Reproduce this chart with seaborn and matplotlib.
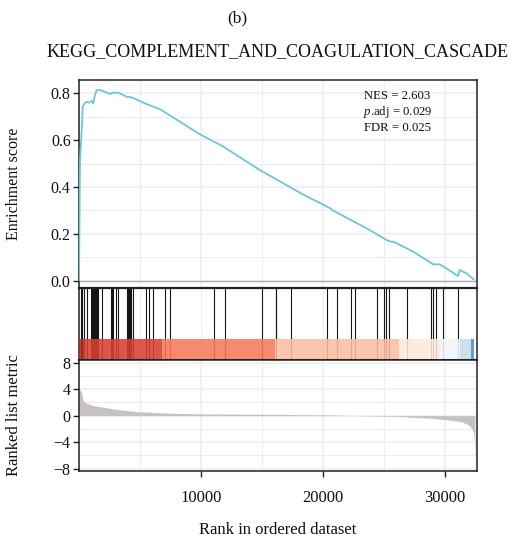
import numpy as np
import pandas as pd
import matplotlib
matplotlib.use("Agg")
import matplotlib.pyplot as plt
from matplotlib.ticker import MultipleLocator
import seaborn as sns

# ---------------- data ----------------
es_rank = [0, 82, 221, 303, 492, 631, 820, 1041, 1172, 1311, 1451, 1721, 1967,
           2270, 2541, 2787, 3090, 3361, 3910, 4320, 5549, 6640, 8279, 9918,
           11850, 14840, 18300, 20600, 20870, 23600, 25370, 25920, 27420,
           29060, 29600, 30000, 31090, 31230, 31780, 32380]
es_value = [0.0, 0.515, 0.643, 0.743, 0.759, 0.764, 0.760, 0.768, 0.757, 0.793,
            0.814, 0.814, 0.810, 0.803, 0.797, 0.803, 0.803, 0.800, 0.785,
            0.783, 0.754, 0.732, 0.679, 0.625, 0.572, 0.472, 0.370, 0.309,
            0.298, 0.223, 0.169, 0.163, 0.123, 0.069, 0.069, 0.056, 0.019,
            0.045, 0.031, 0.005]

hit_ranks = [160, 250, 410, 650, 980, 1070, 1150, 1230, 1310, 1390, 1475, 1560,
             1885, 2620, 2700, 2785, 3030, 3200, 3930, 4015, 4100, 4180, 4260,
             4420, 5490, 5740, 6065, 7050, 7460, 11050, 11950, 14980, 16120,
             16200, 17430, 20380, 21200, 22340, 22670, 24470, 25040, 25200,
             25450, 26930, 28890, 29050, 29300, 29870, 31100]

metric_rank = [1, 200, 330, 620, 1170, 2000, 3360, 4720, 7460, 10000, 15400,
               20800, 23500, 26200, 28900, 30500, 31400, 31950, 32160, 32350,
               32430, 32480]
metric_value = [4.0, 3.6, 2.3, 1.86, 1.5, 1.25, 0.86, 0.6, 0.36, 0.26, 0.2,
                0.1, -0.05, -0.15, -0.4, -0.7, -0.95, -1.4, -1.8, -2.5, -3.5,
                -8.2]

bar_edges = [0, 400, 6800, 16070, 26230, 29590, 31230, 32130, 32400]
bar_colors = ['#B62A20', '#D93F32', '#F6795A', '#FDBDA0', '#FCE9DD',
              '#F2F5FA', '#C7DCEC', '#4C92C8']

title_main = "KEGG_COMPLEMENT_AND_COAGULATION_CASCADE"
panel_tag = "(b)"
nes_text = "NES = 2.603"
padj_text = r"$\it{p}$.adj = 0.029"
fdr_text = "FDR = 0.025"
x_ticks = [10000, 20000, 30000]
es_ticks = [0.0, 0.2, 0.4, 0.6, 0.8]
metric_ticks = [-8, -4, 0, 4, 8]

es_df = pd.DataFrame({"rank": es_rank, "es": es_value})

# ---------------- style ----------------
sns.set_theme(style="white")
plt.rcParams['font.family'] = ['Liberation Serif', 'DejaVu Serif']
plt.rcParams['mathtext.fontset'] = 'custom'
plt.rcParams['mathtext.rm'] = 'Liberation Serif'
plt.rcParams['mathtext.it'] = 'Liberation Serif:italic'

W, H = 512, 538
fig = plt.figure(figsize=(W / 100, H / 100), dpi=100)

def fa(x0, y0, x1, y1):
    return [x0 / W, 1 - y1 / H, (x1 - x0) / W, (y1 - y0) / H]

XMAX = 32650
spine_c = '#222222'
grid_c = '#EDEDED'

ax1 = fig.add_axes(fa(79, 80, 477, 288))
ax2 = fig.add_axes(fa(79, 288, 477, 360))
ax3 = fig.add_axes(fa(79, 360, 477, 471))

for ax in (ax1, ax2, ax3):
    ax.set_xlim(0, XMAX)
    for s in ax.spines.values():
        s.set_color(spine_c)
        s.set_linewidth(1.1)
    ax.xaxis.set_major_locator(MultipleLocator(10000))
    ax.xaxis.set_minor_locator(MultipleLocator(5000))
    ax.set_axisbelow(True)

# ---- running enrichment score ----
ax1.set_ylim(-0.032, 0.857)
ax1.yaxis.set_major_locator(MultipleLocator(0.2))
ax1.yaxis.set_minor_locator(MultipleLocator(0.1))
ax1.grid(which='major', color=grid_c, lw=1.1)
ax1.grid(which='minor', color=grid_c, lw=0.8)
ax1.axhline(0, color='#AFAFAF', lw=1.0, zorder=1)
sns.lineplot(data=es_df, x="rank", y="es", ax=ax1, color='#6CC6DB', lw=1.3,
             zorder=3)
ax1.set_yticks(es_ticks)
ax1.set_yticklabels([f"{v:.1f}" for v in es_ticks])
ax1.tick_params(axis='y', which='major', left=True, length=4, width=1.0,
                color=spine_c, labelsize=11.5, pad=2, labelcolor='#111111')
ax1.tick_params(axis='x', which='both', bottom=False, labelbottom=False)
ax1.tick_params(axis='y', which='minor', left=False)
ax1.set_xlabel("")
ax1.set_ylabel("Enrichment score", fontsize=11.5, color='#111111')
ax1.yaxis.set_label_coords(-0.143, 0.5)
tx = 0.80
ax1.text(tx, 0.925, nes_text, transform=ax1.transAxes, ha='center',
         va='center', fontsize=9.2, color='#111111')
ax1.text(tx, 0.845, padj_text, transform=ax1.transAxes, ha='center',
         va='center', fontsize=9.2, color='#111111')
ax1.text(tx, 0.768, fdr_text, transform=ax1.transAxes, ha='center',
         va='center', fontsize=9.2, color='#111111')

# ---- hits + colour bar ----
ax2.set_ylim(0, 1)
ax2.grid(which='both', axis='x', color=grid_c, lw=0.8)
ax2.vlines(hit_ranks, 0.014, 1, color='#151515', lw=0.8, zorder=2)
for i in range(len(bar_colors)):
    ax2.axvspan(bar_edges[i], bar_edges[i + 1], ymin=0.014, ymax=0.29,
                color=bar_colors[i], alpha=0.88, lw=0, zorder=3)
ax2.tick_params(axis='both', which='both', left=False, bottom=False,
                labelleft=False, labelbottom=False)
ax2.spines['top'].set_linewidth(1.6)
ax2.spines['bottom'].set_linewidth(1.6)

# ---- ranked list metric ----
ax3.set_ylim(-8.35, 8.38)
ax3.yaxis.set_major_locator(MultipleLocator(4))
ax3.yaxis.set_minor_locator(MultipleLocator(2))
ax3.grid(which='major', color=grid_c, lw=1.1)
ax3.grid(which='minor', color=grid_c, lw=0.8)
ax3.fill_between(metric_rank, metric_value, 0, color='#C6C2C2', lw=0,
                 zorder=2)
ax3.set_yticks(metric_ticks)
ax3.set_yticklabels([str(v) if v >= 0 else "\u2212" + str(-v)
                     for v in metric_ticks])
ax3.set_xticks(x_ticks)
ax3.set_xticklabels([str(v) for v in x_ticks])
ax3.tick_params(axis='both', which='major', left=True, bottom=True, length=4,
                width=1.0, color=spine_c, labelsize=11.5, pad=2,
                labelcolor='#111111')
ax3.tick_params(axis='x', pad=10, labelsize=12)
ax3.tick_params(which='minor', left=False, bottom=False)
ax3.set_ylabel("Ranked list metric", fontsize=12, color='#111111')
ax3.yaxis.set_label_coords(-0.143, 0.5)
ax3.set_xlabel("Rank in ordered dataset", fontsize=12, color='#111111',
               labelpad=11)

fig.text(237 / W, 1 - 18 / H, panel_tag, ha='center', va='center',
         fontsize=12.5, color='#111111')
fig.text(278 / W, 1 - 52 / H, title_main, ha='center', va='center',
         fontsize=13.0, color='#111111')

fig.savefig("out.png", dpi=100)
